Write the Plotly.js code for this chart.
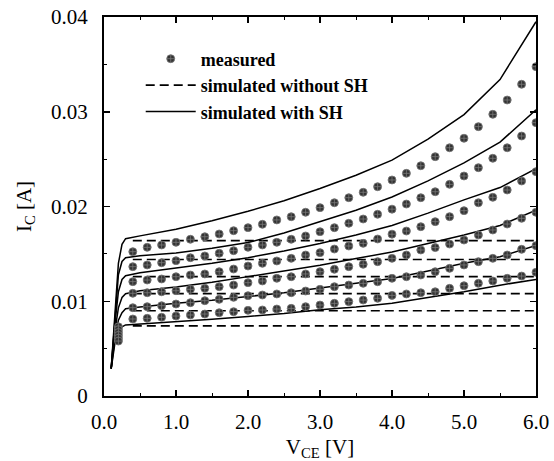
<!DOCTYPE html>
<html>
<head>
<meta charset="utf-8">
<script src="https://cdn.plot.ly/plotly-3.0.1.min.js"></script>
<style>
html,body{margin:0;padding:0;background:#fff;}
#chart{width:554px;height:461px;}
</style>
</head>
<body>
<div id="chart"></div>
<script>
// ---- data ----
var vMeas = [0.2,0.4,0.6,0.8,1.0,1.2,1.4,1.6,1.8,2.0,2.2,2.4,2.6,2.8,3.0,3.2,3.4,3.6,3.8,4.0,4.2,4.4,4.6,4.8,5.0,5.2,5.4,5.6,5.8,6.0];
var meas1 = [0.0073,0.01523,0.01569,0.01594,0.01622,0.01654,0.01681,0.0171,0.01745,0.01777,0.01812,0.01858,0.01892,0.01939,0.01988,0.0204,0.02093,0.0215,0.02209,0.0228,0.0235,0.0243,0.02526,0.0262,0.0272,0.02843,0.02973,0.03124,0.0329,0.03476];
var meas2 = [0.0070,0.01365,0.01383,0.01407,0.01428,0.0146,0.01478,0.01506,0.01534,0.01569,0.01594,0.01622,0.01654,0.01689,0.01734,0.01777,0.01823,0.01868,0.01918,0.01972,0.02026,0.02093,0.02156,0.02234,0.02322,0.0241,0.02509,0.0262,0.02744,0.02885];
var meas3 = [0.0067,0.01207,0.01224,0.01235,0.01259,0.01277,0.01288,0.01312,0.0134,0.01372,0.014,0.01425,0.01453,0.01488,0.01513,0.01551,0.01583,0.01611,0.01657,0.01708,0.01741,0.01787,0.0184,0.01893,0.01956,0.0204,0.02097,0.02174,0.02269,0.02368];
var meas4 = [0.0064,0.01084,0.0109,0.011,0.01111,0.01126,0.01136,0.01154,0.01171,0.01196,0.01214,0.01242,0.01259,0.01288,0.01312,0.01337,0.01365,0.0139,0.01418,0.01453,0.01488,0.01541,0.01566,0.01604,0.01646,0.01699,0.01752,0.01815,0.01875,0.01939];
var meas5 = [0.0061,0.00932,0.00943,0.00953,0.00971,0.00985,0.01006,0.0102,0.01041,0.01059,0.01066,0.01077,0.0109,0.01108,0.01126,0.01154,0.01171,0.01189,0.01206,0.01242,0.01259,0.01277,0.01312,0.01347,0.01383,0.01418,0.01453,0.01488,0.01548,0.01587];
var meas6 = [0.0058,0.00813,0.0082,0.00831,0.00844,0.00855,0.00865,0.00879,0.0089,0.00904,0.00908,0.00918,0.00925,0.00943,0.0096,0.00978,0.00996,0.01013,0.01031,0.01062,0.01077,0.0109,0.011,0.01136,0.01164,0.01189,0.01214,0.01242,0.01266,0.01305];

var vSim = [0.1,0.15,0.2,0.25,0.3,0.5,1.0,1.5,2.0,2.5,3.0,3.5,4.0,4.5,5.0,5.5,6.0];
var sh1 = [0.0029,0.0085,0.0140,0.0160,0.0166,0.0169,0.0176,0.0185,0.0195,0.0206,0.0219,0.0233,0.0249,0.0271,0.0297,0.0334,0.0395];
var sh2 = [0.0029,0.0080,0.0128,0.0142,0.0146,0.0148,0.0151,0.0156,0.0162,0.0172,0.0184,0.0196,0.0210,0.0227,0.0246,0.0268,0.0302];
var sh3 = [0.0029,0.0075,0.0110,0.0123,0.0127,0.0130,0.0135,0.0140,0.0146,0.0153,0.0161,0.0170,0.0180,0.0193,0.0207,0.0220,0.0240];
var sh4 = [0.0029,0.0068,0.0093,0.0104,0.0108,0.0111,0.0115,0.0120,0.0126,0.0132,0.0138,0.0145,0.0152,0.0161,0.0170,0.0180,0.0196];
var sh5 = [0.0029,0.0060,0.0080,0.0088,0.0092,0.0094,0.0098,0.0101,0.0105,0.0109,0.0114,0.0119,0.0124,0.0132,0.0140,0.0147,0.0159];
var sh6 = [0.0029,0.0055,0.0068,0.0073,0.0075,0.0076,0.0078,0.0081,0.0084,0.0087,0.0091,0.0094,0.0098,0.0104,0.0110,0.0117,0.0123];

var vNoSH = [0.4, 6.0];
var noShLevels = [0.0164, 0.0144, 0.0126, 0.0108, 0.0090, 0.0074];

var xTickVals = [0,1,2,3,4,5,6];
var xTickText = ['0.0','1.0','2.0','3.0','4.0','5.0','6.0'];
var yTickVals = [0,0.01,0.02,0.03,0.04];
var yTickText = ['0','0.01','0.02','0.03','0.04'];

var legMeasured = 'measured';
var legNoSH = 'simulated without SH';
var legSH = 'simulated with SH';

// ---- traces ----
var traces = [];
noShLevels.forEach(function(lv, i){
  traces.push({
    x: vNoSH, y: vNoSH.map(function(){return lv;}),
    type:'scatter', mode:'lines',
    line:{color:'#000', width:1.6, dash:'9px,5px'},
    name: legNoSH, legendgroup:'nosh', showlegend: i===0, legendrank: 2,
    hoverinfo:'skip'
  });
});
[sh1,sh2,sh3,sh4,sh5,sh6].forEach(function(s, i){
  traces.push({
    x: vSim, y: s, type:'scatter', mode:'lines',
    line:{color:'#000', width:1.5},
    name: legSH, legendgroup:'sh', showlegend: i===0, legendrank: 3,
    hoverinfo:'skip'
  });
});
[meas1,meas2,meas3,meas4,meas5,meas6].forEach(function(m, i){
  traces.push({
    x: vMeas, y: m, type:'scatter', mode:'markers',
    marker:{symbol:'circle-cross', size:8, color:'#333', line:{color:'#7a7a7a', width:0.8}},
    name: legMeasured, legendgroup:'meas', showlegend: i===0, legendrank: 1,
    hoverinfo:'skip'
  });
});

var axisFont = {family:'Liberation Serif, Times New Roman, serif', size:21, color:'#000'};

var layout = {
  width:554, height:461,
  margin:{l:104, r:18, t:17, b:65},
  paper_bgcolor:'#fff', plot_bgcolor:'#fff',
  showlegend:true,
  legend:{
    x:0.085, y:0.938, xanchor:'left', yanchor:'top',
    bgcolor:'rgba(0,0,0,0)', borderwidth:0,
    font:{family:'Liberation Serif, Times New Roman, serif', size:18, color:'#000', weight:'bold'},
    itemwidth:50, tracegroupgap:0
  },
  xaxis:{
    range:[0,6], tickvals:xTickVals, ticktext:xTickText,
    ticks:'inside', ticklen:6, tickwidth:1.5, tickcolor:'#000',
    showline:true, linewidth:2, linecolor:'#000', mirror:'ticks',
    showgrid:false, zeroline:false,
    tickfont:axisFont, ticklabelstandoff:6,
    minor:{dtick:0.5, ticks:'inside', ticklen:3, tickwidth:1, tickcolor:'#000', showgrid:false},
    title:{text:'V<sub>CE</sub> [V]', font:axisFont, standoff:10}
  },
  yaxis:{
    range:[0,0.04], tickvals:yTickVals, ticktext:yTickText,
    ticks:'inside', ticklen:6, tickwidth:1.5, tickcolor:'#000',
    showline:true, linewidth:2, linecolor:'#000', mirror:'ticks',
    showgrid:false, zeroline:false,
    tickfont:axisFont, ticklabelstandoff:10,
    minor:{dtick:0.005, ticks:'inside', ticklen:3, tickwidth:1, tickcolor:'#000', showgrid:false},
    title:{text:'I<sub>C</sub> [A]', font:axisFont, standoff:14}
  }
};

Plotly.newPlot('chart', traces, layout, {displayModeBar:false, staticPlot:true});
</script>
</body>
</html>
